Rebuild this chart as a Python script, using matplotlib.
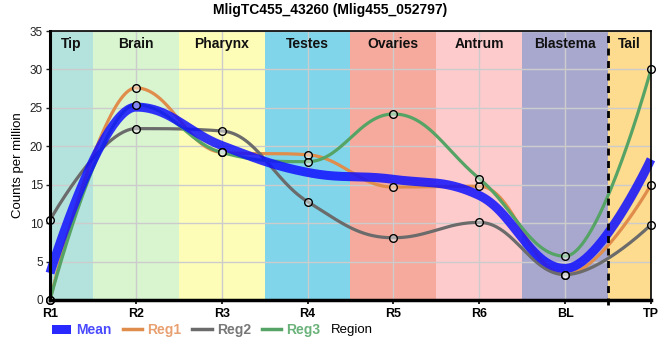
import numpy as np
import matplotlib
matplotlib.use("Agg")
import matplotlib.pyplot as plt
from matplotlib.patches import Patch
from matplotlib.lines import Line2D

plt.rcParams['font.family'] = ['Liberation Sans', 'DejaVu Sans']

categories = ["R1", "R2", "R3", "R4", "R5", "R6", "BL", "TP"]
mean_vals = [3.5, 25.1, 20.1, 16.6, 15.7, 13.6, 4.1, 18.3]
reg1_vals = [0.0, 27.6, 19.2, 18.9, 14.7, 14.8, 3.3, 15.0]
reg2_vals = [10.4, 22.3, 22.0, 12.8, 8.1, 10.1, 3.3, 9.8]
reg3_vals = [0.0, 25.4, 19.2, 18.0, 24.2, 15.8, 5.7, 30.0]

regions = ["Tip", "Brain", "Pharynx", "Testes", "Ovaries", "Antrum", "Blastema", "Tail"]
region_colors = ["#b3e3dc", "#d8f5d0", "#fdfdb8", "#80d5ea", "#f5aa9d", "#fdcbcc", "#a8a8cf", "#fddb8f"]
region_spans = [(0, 0.5), (0.5, 1.5), (1.5, 2.5), (2.5, 3.5), (3.5, 4.5), (4.5, 5.5), (5.5, 6.5), (6.5, 7)]


def hc_spline(xs, ys, n=60, smoothing=1.5):
    xs = list(map(float, xs)); ys = list(map(float, ys))
    N = len(xs)
    lc = [None] * N
    rc = [None] * N
    denom = smoothing + 1
    for i in range(1, N - 1):
        px, py = xs[i], ys[i]
        lx, ly = xs[i - 1], ys[i - 1]
        nx, ny = xs[i + 1], ys[i + 1]
        lcx = (smoothing * px + lx) / denom
        lcy = (smoothing * py + ly) / denom
        rcx = (smoothing * px + nx) / denom
        rcy = (smoothing * py + ny) / denom
        if rcx != lcx:
            corr = ((rcy - lcy) * (rcx - px)) / (rcx - lcx) + py - rcy
            lcy += corr
            rcy += corr
            if lcy > ly and lcy > py:
                lcy = max(ly, py); rcy = 2 * py - lcy
            elif lcy < ly and lcy < py:
                lcy = min(ly, py); rcy = 2 * py - lcy
            if rcy > ny and rcy > py:
                rcy = max(ny, py); lcy = 2 * py - rcy
            elif rcy < ny and rcy < py:
                rcy = min(ny, py); lcy = 2 * py - rcy
        lc[i] = (lcx, lcy)
        rc[i] = (rcx, rcy)
    outx, outy = [xs[0]], [ys[0]]
    t = np.linspace(0, 1, n)[1:]
    for i in range(1, N):
        p0 = (xs[i - 1], ys[i - 1])
        p1 = rc[i - 1] if rc[i - 1] is not None else p0
        p3 = (xs[i], ys[i])
        p2 = lc[i] if lc[i] is not None else p3
        bx = (1 - t) ** 3 * p0[0] + 3 * (1 - t) ** 2 * t * p1[0] + 3 * (1 - t) * t ** 2 * p2[0] + t ** 3 * p3[0]
        by = (1 - t) ** 3 * p0[1] + 3 * (1 - t) ** 2 * t * p1[1] + 3 * (1 - t) * t ** 2 * p2[1] + t ** 3 * p3[1]
        outx.extend(bx); outy.extend(by)
    return np.array(outx), np.array(outy)


fig = plt.figure(figsize=(6.6, 3.6), dpi=100)
ax = fig.add_axes([50 / 660, 1 - 300 / 360, 601 / 660, 269 / 360])
x = np.arange(len(categories))

for (a, b), c, name in zip(region_spans, region_colors, regions):
    ax.axvspan(a, b, color=c, zorder=0, lw=0)
    ax.text((a + b) / 2, 34.2, name, ha='center', va='top', fontsize=10,
            fontweight='bold', color='#111111', zorder=6)

ax.set_xlim(0, 7)
ax.set_ylim(0, 35)
ax.set_yticks(np.arange(0, 36, 5))
ax.set_xticks(x)
ax.set_xticklabels(categories, fontweight='bold', fontsize=9)
ax.grid(True, color='#cccccc', lw=1, zorder=1)
ax.set_axisbelow(False)
ax.tick_params(axis='y', labelsize=8.5, length=3, width=1, colors='#222222', pad=2)
ax.tick_params(axis='x', length=3, width=1.2, pad=3)

series = [
    (reg1_vals, '#e08c4b'),
    (reg2_vals, '#6b6b6b'),
    (reg3_vals, '#55a465'),
]
for vals, col in series:
    sx, sy = hc_spline(x, vals)
    ax.plot(sx, sy, color=col, lw=2.3, zorder=3, solid_capstyle='butt', clip_on=False)

mx, my = hc_spline(x, mean_vals)
ax.plot(mx, my, color='#1010ff', alpha=0.85, lw=6.5, zorder=4, solid_capstyle='butt', clip_on=False)

for vals, col in series:
    ax.plot(x, vals, ls='none', marker='o', ms=5.5, mfc=(1, 1, 1, 0.45), mec='black',
            mew=1.0, zorder=5, clip_on=False)

ax.plot([6.5, 6.5], [-0.6, 35], color='black', lw=2, ls=(0, (2.5, 2)), zorder=6, clip_on=False)

ax.spines['left'].set_linewidth(2.2)
ax.spines['bottom'].set_linewidth(2.5)
ax.spines['top'].set_linewidth(1.2)
ax.spines['right'].set_linewidth(1.2)
for s in ax.spines.values():
    s.set_zorder(7)

ax.set_ylabel("Counts per million", fontsize=9.5, labelpad=4)
fig.text(0.5, 1 - 10 / 360, "MligTC455_43260 (Mlig455_052797)", ha='center', va='center',
         fontsize=10, fontweight='bold')
fig.text(352 / 660, 1 - 330 / 360, "Region", ha='center', va='center', fontsize=9.5)

handles = [
    Patch(facecolor='#2828ff', edgecolor='none'),
    Line2D([], [], color='#e08c4b', lw=2.5),
    Line2D([], [], color='#6b6b6b', lw=2.5),
    Line2D([], [], color='#55a465', lw=2.5),
]
labels = ["Mean", "Reg1", "Reg2", "Reg3"]
leg = fig.legend(handles, labels, loc='center left', bbox_to_anchor=(52 / 660, 1 - 330 / 360),
                 ncol=4, frameon=False, fontsize=10, handlelength=1.4, handleheight=0.6,
                 handletextpad=0.35, columnspacing=0.8, borderaxespad=0, borderpad=0)
for t, c in zip(leg.get_texts(), ['#4a4aff', '#e8a070', '#777777', '#6ab27a']):
    t.set_color(c)
    t.set_fontweight('bold')

fig.savefig("out.png", dpi=100)
